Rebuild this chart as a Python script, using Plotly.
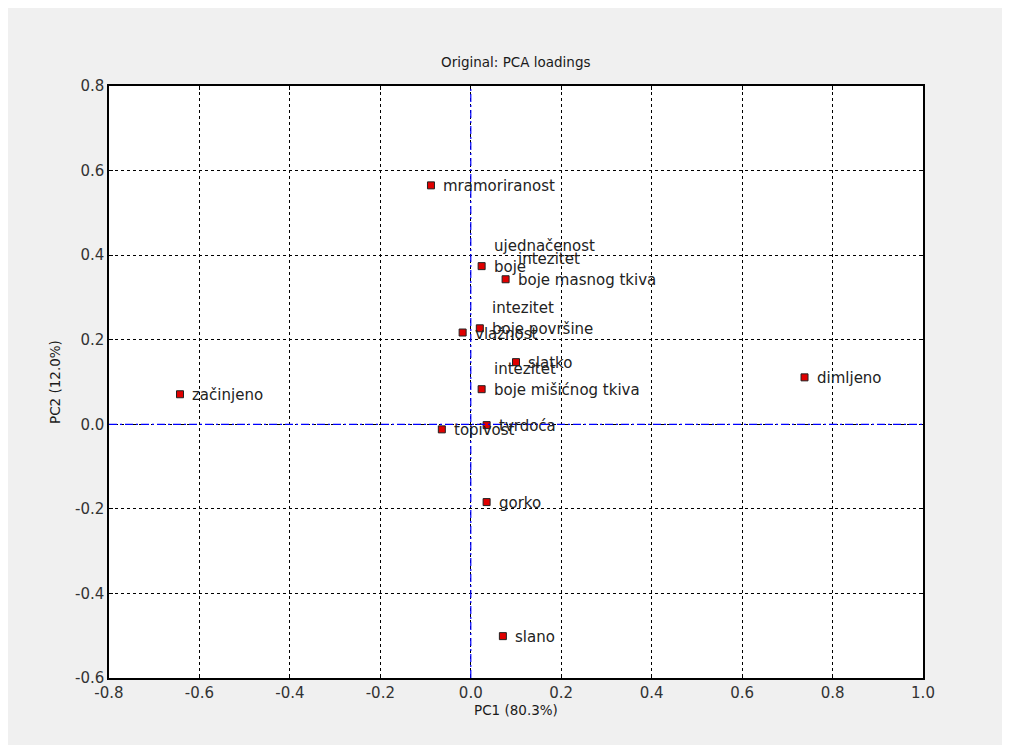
import plotly.graph_objects as go

# PCA loadings
names = ["mramoriranost", "ujednačenost\nboje", "intezitet\nboje masnog tkiva", "vlažnost",
         "intezitet\nboje površine", "slatko", "intezitet\nboje mišićnog tkiva", "topivost",
         "tvrdoća", "začinjeno", "dimljeno", "gorko", "slano"]
pc1 = [-0.088, 0.024, 0.077, -0.018, 0.020, 0.100, 0.024, -0.064, 0.035, -0.643, 0.738, 0.035, 0.071]
pc2 = [0.565, 0.374, 0.343, 0.217, 0.227, 0.147, 0.083, -0.012, -0.002, 0.071, 0.111, -0.184, -0.501]

xticks = [-0.8, -0.6, -0.4, -0.2, 0.0, 0.2, 0.4, 0.6, 0.8, 1.0]
yticks = [-0.6, -0.4, -0.2, 0.0, 0.2, 0.4, 0.6, 0.8]

fnt = "DejaVu Sans"

fig = go.Figure()
fig.add_trace(go.Scatter(x=pc1, y=pc2, mode="markers",
                         marker=dict(symbol="square", size=7, color="#e00000",
                                     line=dict(color="#222", width=1)),
                         hoverinfo="skip", showlegend=False))

# labels: last line next to the marker, earlier lines stacked above
annos = []
for n, x, y in zip(names, pc1, pc2):
    lines = n.split("\n")
    for i, ln in enumerate(reversed(lines)):
        annos.append(dict(x=x, y=y, xref="x", yref="y", text=ln, showarrow=False,
                          xanchor="left", yanchor="middle", xshift=10, yshift=-1 + 21 * i,
                          font=dict(family=fnt, size=15, color="#222")))

annos.append(dict(text="Original: PCA loadings", x=0.5, y=1, xref="paper", yref="paper",
                  yshift=24, showarrow=False, yanchor="middle",
                  font=dict(family=fnt, size=13.5, color="#1a1a1a")))
annos.append(dict(text="PC1 (80.3%)", x=0.5, y=0, xref="paper", yref="paper",
                  yshift=-32, showarrow=False, yanchor="middle",
                  font=dict(family=fnt, size=13.5, color="#1a1a1a")))
annos.append(dict(text="PC2 (12.0%)", x=0, y=0.5, xref="paper", yref="paper",
                  xshift=-54, showarrow=False, textangle=-90, xanchor="center",
                  font=dict(family=fnt, size=13.5, color="#1a1a1a")))
fig.update_layout(annotations=annos)

# blue dash-dot lines through the origin
fig.add_shape(type="line", x0=0, x1=0, y0=0, y1=1, xref="x", yref="paper",
              line=dict(color="#0000ff", width=1.2, dash="8px,3px,2px,3px"))
fig.add_shape(type="line", x0=0, x1=1, y0=0, y1=0, xref="paper", yref="y",
              line=dict(color="#0000ff", width=1.2, dash="8px,3px,2px,3px"))

axis_common = dict(showgrid=True, gridcolor="black", griddash="dot", gridwidth=1,
                   zeroline=False, showline=True, linecolor="black", linewidth=1.5,
                   mirror="ticks", ticks="inside", ticklen=4, tickcolor="black",
                   tickfont=dict(family=fnt, size=15, color="#333"))

fig.update_xaxes(range=[-0.8, 1.0], tickvals=xticks,
                 ticktext=[f"{v:.1f}" for v in xticks], **axis_common)
fig.update_yaxes(range=[-0.6, 0.8], tickvals=yticks,
                 ticktext=[f"{v:.1f}" for v in yticks], **axis_common)

fig.update_layout(width=1010, height=745, paper_bgcolor="#f0f0f0", plot_bgcolor="white",
                  margin=dict(l=101, r=94.5, t=78, b=75), showlegend=False)

fig.write_html("out.html")
